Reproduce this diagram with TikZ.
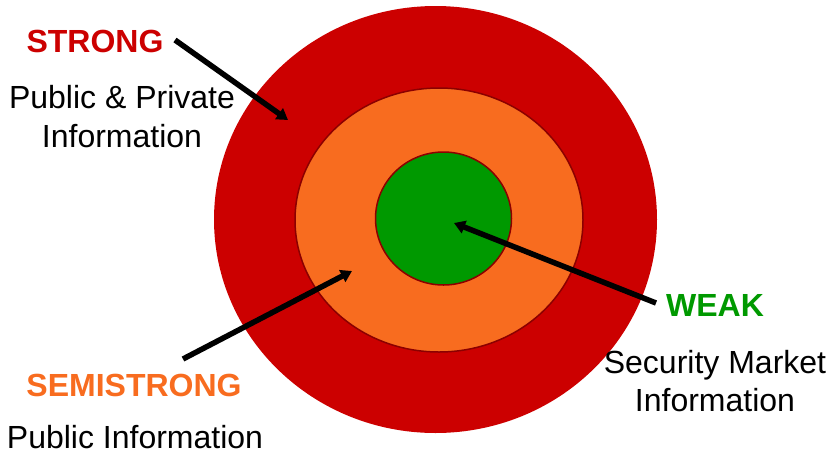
\documentclass[tikz,border=0pt]{standalone}
\usepackage{fontspec}
\setmainfont{Liberation Sans}
\usetikzlibrary{arrows.meta}
\usetikzlibrary{positioning}

\definecolor{strongred}{HTML}{CC0000}
\definecolor{semiorange}{HTML}{F86C1F}
\definecolor{weakgreen}{HTML}{009900}
\definecolor{rimred}{HTML}{8B0000}

\begin{document}
\begin{tikzpicture}[
		x=1pt,
		y=-1pt,
		label font/.style={font=\fontsize{32}{38}\selectfont},
		title node/.style={label font, font=\fontsize{32}{38}\selectfont\bfseries, anchor=base},
		info node/.style={label font, anchor=base, align=center},
		pointer/.style={-{Triangle[length=11pt,width=13pt]}, line width=5.5pt, black}
		]
		\useasboundingbox (0,0) rectangle (831,456);
		
		% rings
		\fill[strongred] (435.5,219.5) ellipse [x radius=221.5, y radius=213.5];
		\draw[rimred, line width=1.5pt, fill=semiorange] (439,220) ellipse [x radius=144, y radius=132];
		\draw[rimred, line width=1.5pt, fill=weakgreen] (443.5,218.5) ellipse [x radius=68, y radius=66.5];
		
		% labels
		\node[title node, text=strongred] (strong) at (95,52) {STRONG};
		\node[info node] (strong info) at (122,108) {Public \& Private};
		\node[info node] (strong info2) at (122,147) {Information};
		
		\node[title node, text=semiorange] (semi) at (134,396) {SEMISTRONG};
		\node[info node] (semi info) at (135,448) {Public Information};
		
		\node[title node, text=weakgreen] (weak) at (715,316) {WEAK};
		\node[info node] (weak info) at (715,373) {Security Market};
		\node[info node] (weak info2) at (715,411) {Information};
		
		% pointers
		\coordinate (strong start) at (175,40);
		\coordinate (strong tip) at (288,120);
		\coordinate (semi start) at (183,359);
		\coordinate (semi tip) at (352,271);
		\coordinate (weak start) at (656,303);
		\coordinate (weak tip) at (454,223);
		
		\draw[pointer] (strong start) -- (strong tip);
		\draw[pointer] (semi start) -- (semi tip);
		\draw[pointer] (weak start) -- (weak tip);
	\end{tikzpicture}
\end{document}
